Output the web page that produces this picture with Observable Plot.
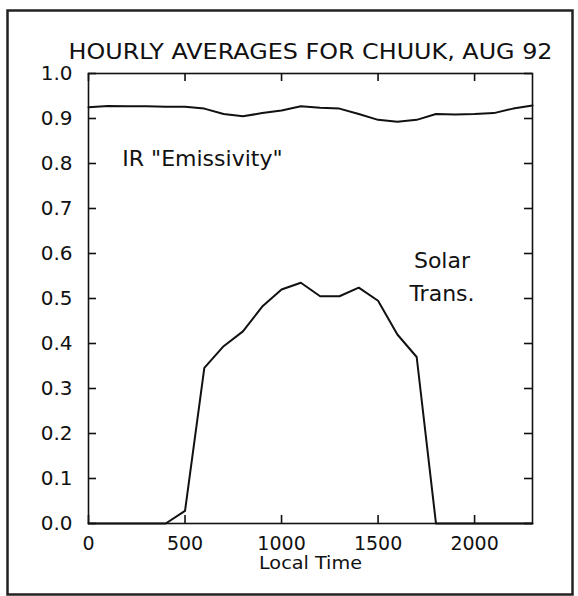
<!DOCTYPE html>
<html><head><meta charset="utf-8">
<script src="https://cdn.jsdelivr.net/npm/d3@7"></script>
<script src="https://cdn.jsdelivr.net/npm/@observablehq/plot@0.6"></script>
<style>body{margin:0;background:#fff}</style>
</head><body><div id="chart"></div>
<script>
const hours = [0,100,200,300,400,500,600,700,800,900,1000,1100,1200,1300,1400,1500,1600,1700,1800,1900,2000,2100,2200,2300];
const irEmissivity = [0.925,0.928,0.927,0.927,0.926,0.926,0.922,0.910,0.905,0.912,0.918,0.927,0.924,0.922,0.910,0.897,0.893,0.897,0.910,0.909,0.910,0.912,0.922,0.929];
const solarTrans = [0,0,0,0,0,0.028,0.346,0.394,0.427,0.482,0.520,0.535,0.505,0.505,0.524,0.495,0.420,0.370,0,0,0,0,0,0];
const xTickValues = [0,500,1000,1500,2000];
const yTickValues = [0,0.1,0.2,0.3,0.4,0.5,0.6,0.7,0.8,0.9,1.0];
const titleText = "HOURLY AVERAGES FOR CHUUK, AUG 92";
const xLabelText = "Local Time";
const irLabel = [{x: 175, y: 0.809, text: 'IR "Emissivity"'}];
const solarLabel = [{x: 1831, y: 0.5555, text: "Solar\nTrans."}];

const ir = hours.map((h, i) => ({t: h, v: irEmissivity[i]}));
const solar = hours.map((h, i) => ({t: h, v: solarTrans[i]}));

const W = 578, H = 596, mL = 88, mR = 46, mT = 73, mB = 73;
const fw = W - mL - mR, fh = H - mT - mB;
const tick = 8;

const chart = Plot.plot({
  width: W, height: H,
  marginLeft: mL, marginRight: mR, marginTop: mT, marginBottom: mB,
  style: {fontFamily: "DejaVu Sans", background: "#fff", color: "#111"},
  x: {domain: [0, 2300]},
  y: {domain: [0, 1]},
  marks: [
    Plot.frame({insetLeft: -(mL - 7), insetTop: -(mT - 10), insetRight: -(572 - (W - mR)), insetBottom: -(594 - (H - mB)), stroke: "#222", strokeWidth: 2.5}),
    Plot.frame({stroke: "#111", strokeWidth: 1.6}),
    Plot.tickX(xTickValues, {x: d => d, insetTop: fh - tick, stroke: "#111", strokeWidth: 1.6}),
    Plot.tickX(xTickValues, {x: d => d, insetBottom: fh - tick, stroke: "#111", strokeWidth: 1.6}),
    Plot.tickY(yTickValues, {y: d => d, insetRight: fw - tick, stroke: "#111", strokeWidth: 1.6}),
    Plot.tickY(yTickValues, {y: d => d, insetLeft: fw - tick, stroke: "#111", strokeWidth: 1.6}),
    Plot.axisX({ticks: xTickValues, tickSize: 0, tickPadding: 13, fontSize: 19, label: null, tickFormat: d3.format("d")}),
    Plot.axisY({ticks: yTickValues, tickSize: 0, tickPadding: 16, fontSize: 20, label: null, tickFormat: d3.format(".1f")}),
    Plot.line(ir, {x: "t", y: "v", stroke: "#111", strokeWidth: 2}),
    Plot.line(solar, {x: "t", y: "v", stroke: "#111", strokeWidth: 2}),
    Plot.text(irLabel, {x: "x", y: "y", text: "text", textAnchor: "start", fontSize: 22, fill: "#111"}),
    Plot.text(solarLabel, {x: "x", y: "y", text: "text", textAnchor: "middle", fontSize: 22, lineHeight: 1.5, fill: "#111"}),
    Plot.text([titleText], {frameAnchor: "top", lineAnchor: "middle", dy: -22, fontSize: 22, fill: "#111"}),
    Plot.text([xLabelText], {frameAnchor: "bottom", lineAnchor: "middle", dy: 40, fontSize: 17, fill: "#111"})
  ]
});
document.getElementById("chart").appendChild(chart);
for (const el of chart.querySelectorAll("text")) {
  if (el.textContent === titleText) { el.setAttribute("textLength", 484); el.setAttribute("lengthAdjust", "spacingAndGlyphs"); }
  if (el.textContent === xLabelText) { el.setAttribute("textLength", 103); el.setAttribute("lengthAdjust", "spacingAndGlyphs"); }
}
</script>
</body></html>
